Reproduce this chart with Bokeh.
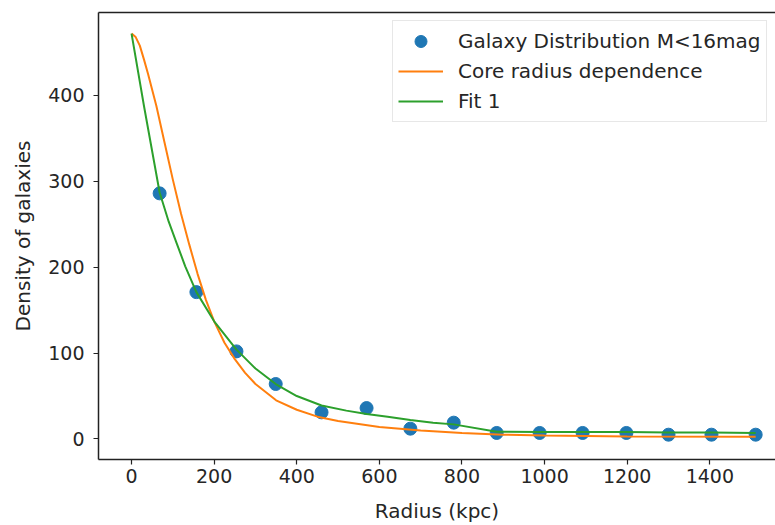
from bokeh.plotting import figure
from bokeh.models import FixedTicker, Range1d, Legend, LegendItem, LinearAxis
from bokeh.embed import file_html
from bokeh.resources import INLINE

# Observed galaxy density profile
radius = [68, 157, 254, 349, 460, 569, 675, 780, 884, 988, 1092, 1198, 1300, 1404, 1511]
density = [286, 171, 102, 64, 31, 36, 12, 19, 7, 7, 7, 7, 5, 5, 5]

# Core radius dependence curve
core_r = [0, 10, 20, 30, 40, 60, 80, 100, 120, 140, 160, 180, 200, 225, 250, 275, 300,
          350, 400, 450, 500, 600, 700, 800, 900, 1000, 1200, 1511]
core_d = [472, 468, 458, 442, 425, 388, 345, 302, 262, 226, 192, 162, 137, 112, 93, 77, 64,
          45, 34, 26, 21, 14, 10, 7, 5, 4, 3, 2.5]

# Fit 1 curve
fit_r = [0, 30, 68, 90, 110, 130, 157, 200, 254, 300, 349, 400, 460, 520, 569, 620, 675,
         730, 780, 884, 988, 1092, 1198, 1300, 1404, 1511]
fit_d = [472, 388, 287, 253, 227, 201, 171, 137, 104, 82, 64, 50, 39, 33, 29, 26, 22,
         19, 17, 8.5, 8, 8, 8, 7.5, 7.5, 7]

x_ticks = [0, 200, 400, 600, 800, 1000, 1200, 1400]
y_ticks = [0, 100, 200, 300, 400]

FONT = "DejaVu Sans"
TXT = "#262626"

p = figure(width=775, height=525, output_backend="svg", toolbar_location=None,
           x_range=Range1d(-80, 1559), y_range=Range1d(-23.9, 496.6),
           min_border_left=98, min_border_right=0, min_border_top=12, min_border_bottom=66)
p.background_fill_color = "white"
p.border_fill_color = "white"
p.outline_line_color = None
p.xgrid.visible = False
p.ygrid.visible = False

for ax in (p.xaxis[0], p.yaxis[0]):
    ax.major_label_text_font = FONT
    ax.major_label_text_font_size = "19px"
    ax.major_label_text_color = TXT
    ax.axis_label_text_font = FONT
    ax.axis_label_text_font_size = "20px"
    ax.axis_label_text_font_style = "normal"
    ax.axis_label_text_color = TXT
    ax.minor_tick_line_color = None
    ax.major_tick_in = 0
    ax.major_tick_out = 5
    ax.major_tick_line_color = "#222222"
    ax.major_tick_line_width = 1.2
    ax.axis_line_color = "#222222"
    ax.axis_line_width = 1.5

p.xaxis[0].ticker = FixedTicker(ticks=x_ticks)
p.yaxis[0].ticker = FixedTicker(ticks=y_ticks)
p.xaxis[0].axis_label = "Radius (kpc)"
p.yaxis[0].axis_label = "Density of galaxies"
p.xaxis[0].major_label_standoff = 4
p.yaxis[0].major_label_standoff = 9
p.xaxis[0].axis_label_standoff = 13
p.yaxis[0].axis_label_standoff = 10

# top border of the axes box
top = LinearAxis(ticker=FixedTicker(ticks=[]), major_label_text_font_size="0px",
                 major_tick_out=0, major_tick_in=0, minor_tick_line_color=None,
                 axis_line_color="#222222", axis_line_width=1.5)
p.add_layout(top, "above")

r_pts = p.scatter(radius, density, size=13, color="#1f77b4")
r_core = p.line(core_r, core_d, line_color="#ff7f0e", line_width=2)
r_fit = p.line(fit_r, fit_d, line_color="#2ca02c", line_width=2)

legend = Legend(items=[
    LegendItem(label="Galaxy Distribution M<16mag", renderers=[r_pts]),
    LegendItem(label="Core radius dependence", renderers=[r_core]),
    LegendItem(label="Fit 1", renderers=[r_fit]),
], location=(294, 337))
legend.label_text_font = FONT
legend.label_text_font_size = "20px"
legend.label_text_color = TXT
legend.glyph_width = 45
legend.glyph_height = 30
legend.label_height = 30
legend.spacing = 0
legend.padding = 5
legend.margin = 0
legend.border_line_color = "#d0d0d0"
legend.border_line_width = 1
legend.background_fill_alpha = 0.8
legend.label_standoff = 15
p.add_layout(legend)

open("out.html", "w").write(file_html(p, INLINE))
